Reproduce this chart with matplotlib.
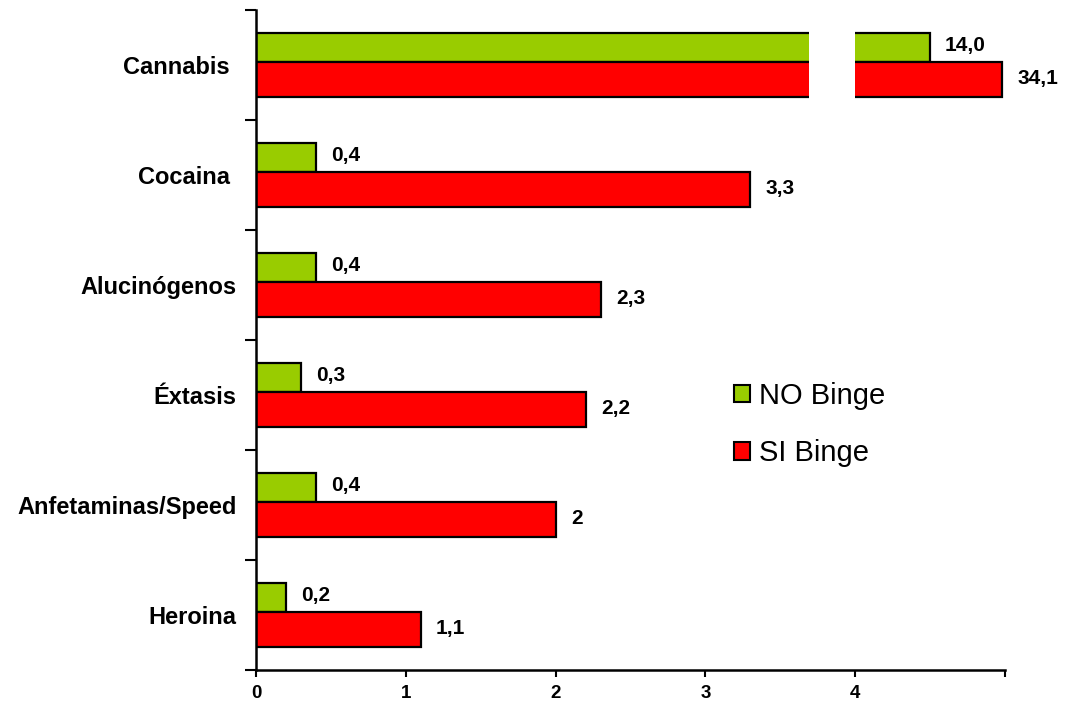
import numpy as np
import matplotlib.pyplot as plt
from matplotlib.patches import Rectangle, Patch

# datos (de arriba a abajo)
drogas = ["Cannabis ", "Cocaina ", "Alucinógenos", "Éxtasis", "Anfetaminas/Speed", "Heroina"]
no_binge = [14.0, 0.4, 0.4, 0.3, 0.4, 0.2]
si_binge = [34.1, 3.3, 2.3, 2.2, 2, 1.1]
x_ticks = [0, 1, 2, 3, 4]

VERDE = "#99CC00"
ROJO = "#FF0000"

# eje cortado: por encima de 4 la escala se comprime
def escala(v):
    return np.interp(v, [0, 4, 10, 35], [0, 4, 4.4, 5.0])

plt.rcParams["font.family"] = ["Liberation Sans", "DejaVu Sans"]

fig = plt.figure(figsize=(10.67, 7.04), dpi=100)
ax = fig.add_axes([256 / 1067, 1 - 670 / 704, 749 / 1067, 660 / 704])

y = np.arange(len(drogas))
h_verde, h_rojo, sep = 0.265, 0.325, 0.03

ax.barh(y - sep - h_verde, escala(no_binge), height=h_verde, align="edge",
        color=VERDE, edgecolor="black", linewidth=1.6, zorder=2)
ax.barh(y - sep, escala(si_binge), height=h_rojo, align="edge",
        color=ROJO, edgecolor="black", linewidth=1.6, zorder=2)

# hueco del corte en Cannabis
ax.add_patch(Rectangle((3.69, -0.45), 0.31, 0.9, facecolor="white",
                       edgecolor="none", zorder=5))

for i in range(len(drogas)):
    ax.annotate(str(no_binge[i]).replace(".", ","), (escala(no_binge[i]), y[i] - sep - h_verde / 2),
                xytext=(11, 1), textcoords="offset points", va="center", ha="left",
                fontsize=15, fontweight="bold")
    ax.annotate(str(si_binge[i]).replace(".", ","), (escala(si_binge[i]), y[i] - sep + h_rojo / 2),
                xytext=(11, 1), textcoords="offset points", va="center", ha="left",
                fontsize=15, fontweight="bold")

ax.set_xlim(0, 5)
ax.set_ylim(len(drogas) - 0.5, -0.5)

ax.set_xticks(x_ticks + [5])
ax.set_xticklabels([str(t) for t in x_ticks] + [""], fontsize=13.5, fontweight="bold")
ax.tick_params(axis="x", length=5, width=1.5, pad=6)

ax.set_yticks(np.arange(-0.5, len(drogas)), labels=[""] * (len(drogas) + 1))
ax.set_yticks(y, labels=drogas, minor=True)
ax.tick_params(axis="y", which="major", length=8, width=1.5)
ax.tick_params(axis="y", which="minor", length=0, pad=14, labelsize=17)
for lab in ax.get_yticklabels(minor=True):
    lab.set_fontweight("bold")

for s in ["top", "right"]:
    ax.spines[s].set_visible(False)
for s in ["left", "bottom"]:
    ax.spines[s].set_linewidth(1.8)

handles = [Patch(facecolor=VERDE, edgecolor="black", linewidth=1.5),
           Patch(facecolor=ROJO, edgecolor="black", linewidth=1.5)]
ax.legend(handles, ["NO Binge", "SI Binge"], loc="center left",
          bbox_to_anchor=(0.638, 0.372), frameon=False, fontsize=21,
          handlelength=0.55, handleheight=0.55, handletextpad=0.3,
          labelspacing=1.0, borderpad=0, borderaxespad=0)

fig.savefig("out.png", dpi=100)
